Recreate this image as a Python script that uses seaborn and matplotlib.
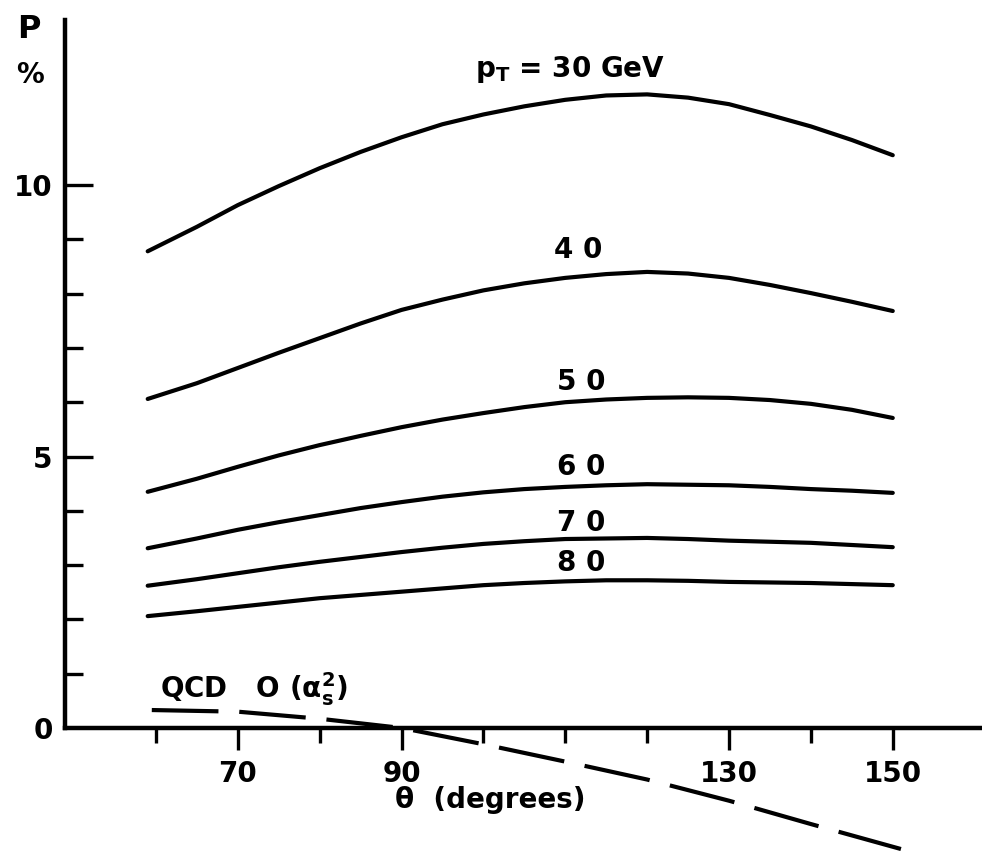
import matplotlib
matplotlib.use('Agg')
import matplotlib.pyplot as plt
import numpy as np
import pandas as pd
import seaborn as sns

# values (P in %, theta in degrees)
theta = [59, 65, 70, 75, 80, 85, 90, 95, 100, 105, 110, 115, 120, 125, 130, 135, 140, 145, 150]
p_30 = [8.78, 9.23, 9.63, 9.98, 10.31, 10.61, 10.88, 11.12, 11.30, 11.45,
        11.57, 11.65, 11.67, 11.61, 11.49, 11.29, 11.08, 10.83, 10.55]
p_40 = [6.06, 6.35, 6.63, 6.91, 7.18, 7.45, 7.70, 7.89, 8.06, 8.19,
        8.29, 8.36, 8.40, 8.37, 8.29, 8.16, 8.01, 7.85, 7.68]
p_50 = [4.35, 4.59, 4.81, 5.02, 5.21, 5.38, 5.54, 5.68, 5.80, 5.91,
        6.00, 6.05, 6.08, 6.09, 6.08, 6.04, 5.97, 5.86, 5.71]
p_60 = [3.31, 3.49, 3.65, 3.79, 3.92, 4.05, 4.16, 4.26, 4.34, 4.40,
        4.44, 4.47, 4.49, 4.48, 4.47, 4.44, 4.40, 4.37, 4.33]
p_70 = [2.62, 2.74, 2.85, 2.96, 3.06, 3.15, 3.24, 3.32, 3.39, 3.44,
        3.48, 3.49, 3.50, 3.48, 3.45, 3.43, 3.41, 3.37, 3.33]
p_80 = [2.06, 2.15, 2.23, 2.31, 2.39, 2.45, 2.51, 2.57, 2.63, 2.67,
        2.70, 2.72, 2.72, 2.71, 2.69, 2.68, 2.67, 2.65, 2.63]
theta_qcd = [59.5, 70, 80, 90, 100, 110, 120, 130, 140, 151]
qcd = [0.33, 0.30, 0.17, 0.00, -0.30, -0.62, -0.95, -1.34, -1.77, -2.23]

curve_labels = ['p$_\\mathbf{T}$ = 30 GeV', '4 0', '5 0', '6 0', '7 0', '8 0']
label_x = [110.6, 111.6, 111.9, 111.9, 112.0, 112.0]
label_y = [12.12, 8.80, 6.37, 4.81, 3.78, 3.04]

major_xticks = [70, 90, 130, 150]
minor_xticks = [60, 80, 100, 110, 120, 140]

df = pd.DataFrame({'theta': theta * 6,
                   'P': p_30 + p_40 + p_50 + p_60 + p_70 + p_80,
                   'pT': np.repeat(['30', '40', '50', '60', '70', '80'], len(theta))})
df_qcd = pd.DataFrame({'theta': theta_qcd, 'P': qcd})

sns.set_theme(style='ticks')
plt.rcParams['font.family'] = ['DejaVu Sans']
plt.rcParams['text.color'] = 'black'
plt.rcParams['xtick.color'] = 'black'
plt.rcParams['ytick.color'] = 'black'
plt.rcParams['mathtext.fontset'] = 'dejavusans'

fig = plt.figure(figsize=(9.82, 8.55), dpi=100)
ax = fig.add_axes([0.0662, 0.0, 0.9338, 0.9766])

sns.lineplot(data=df, x='theta', y='P', hue='pT', units='pT', estimator=None,
             palette=['black'] * 6, linewidth=3.0, legend=False, ax=ax)
sns.lineplot(data=df_qcd, x='theta', y='P', color='black', linewidth=3.0,
             dashes=False, ax=ax)
ax.lines[-1].set_dashes([16, 5])
ax.lines[-1].set_dash_capstyle('butt')

ax.set_xlim(48.9, 160.9)
ax.set_ylim(-2.34, 13.04)

ax.spines['top'].set_visible(False)
ax.spines['right'].set_visible(False)
ax.spines['bottom'].set_position(('data', 0))
ax.spines['left'].set_bounds(0, 13.04)
for s in ['left', 'bottom']:
    ax.spines[s].set_linewidth(3.2)
    ax.spines[s].set_color('black')

ax.set_xticks(major_xticks)
ax.set_xticks(minor_xticks, minor=True)
ax.set_yticks([0, 5, 10])
ax.set_yticks([1, 2, 3, 4, 6, 7, 8, 9], minor=True)
ax.tick_params(axis='x', which='major', direction='out', length=16, width=2.4,
               labelsize=20, pad=7, colors='black')
ax.tick_params(axis='x', which='minor', direction='out', length=11, width=2.4)
ax.tick_params(axis='y', which='major', direction='in', length=20, width=2.4,
               labelsize=20, pad=9, colors='black')
ax.tick_params(axis='y', which='minor', direction='in', length=13, width=2.4)
ax.yaxis.get_major_ticks()[0].tick1line.set_visible(False)
for t in ax.get_xticklabels() + ax.get_yticklabels():
    t.set_fontweight('bold')
ax.set_xlabel('')
ax.set_ylabel('')

for lab, lx, ly in zip(curve_labels, label_x, label_y):
    ax.text(lx, ly, lab, fontsize=20, fontweight='bold', ha='center', va='center',
            color='black')

ax.text(60.5, 0.72, 'QCD   O ($\\mathbf{\\alpha_s^2}$)', fontsize=20, fontweight='bold',
        ha='left', va='center', color='black')
ax.text(100.8, -1.33, 'θ  (degrees)', fontsize=20, fontweight='bold', ha='center',
        va='center', color='black')

fig.text(0.0295, 0.966, 'P', fontsize=23, fontweight='bold', ha='center', va='center')
fig.text(0.0305, 0.912, '%', fontsize=20, fontweight='bold', ha='center', va='center')

fig.savefig('out.png', dpi=100, facecolor='white')
